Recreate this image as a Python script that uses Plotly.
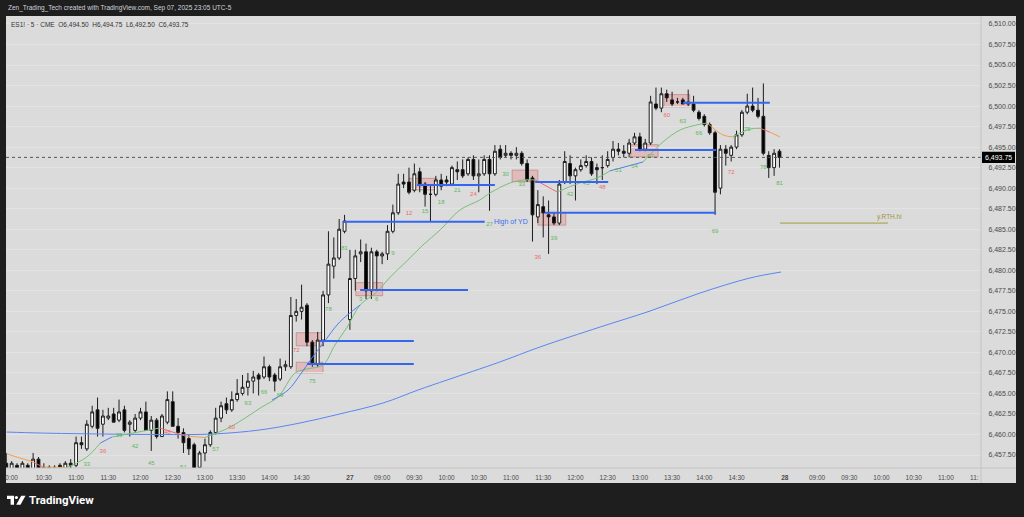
import plotly.graph_objects as go

# ---------------- data ----------------
# bar index: 0 = Aug 26 08:30 (5-min RTH bars, 81 per session 08:30-15:10)
bar_index = list(range(17, 162))

opens = [
    6456.50, 6455.75, 6456.25, 6455.50, 6456.25, 6455.50, 6457.00, 6455.75, 6456.00, 6455.75,
    6456.25, 6455.50, 6456.50, 6456.25, 6459.00, 6458.25, 6461.00, 6463.00, 6461.25, 6462.00,
    6462.50, 6461.75, 6463.00, 6461.25, 6460.50, 6462.00, 6462.75, 6460.50, 6461.75, 6459.75,
    6461.50, 6464.00, 6461.00, 6460.25, 6459.50, 6458.75, 6456.00, 6457.75, 6458.75, 6460.25,
    6462.00, 6463.75, 6463.00, 6464.25, 6465.00, 6465.75, 6466.50, 6467.25, 6467.00, 6468.25,
    6467.25, 6466.75, 6468.25, 6468.25, 6474.50, 6475.00, 6475.75, 6471.25, 6468.50, 6471.50,
    6477.00, 6480.50, 6481.50, 6484.75, 6474.00, 6479.00, 6482.00, 6482.25, 6477.50, 6482.25,
    6481.75, 6482.00, 6484.75, 6487.00, 6490.75, 6490.75, 6489.75, 6492.00, 6490.50, 6489.25,
    6489.25, 6491.00, 6491.00, 6490.50, 6492.25, 6492.25, 6491.75, 6493.50, 6491.50, 6491.75,
    6493.50, 6491.75, 6494.75, 6494.00, 6494.25, 6494.00, 6494.25, 6493.00, 6491.25, 6486.50,
    6487.75, 6486.75, 6486.50, 6485.75, 6490.75, 6493.00, 6491.50, 6492.25, 6492.75, 6493.25,
    6492.50, 6492.50, 6492.75, 6493.75, 6494.75, 6494.50, 6494.25, 6495.50, 6496.25, 6494.75,
    6495.50, 6500.25, 6499.75, 6501.50, 6500.75, 6500.50, 6500.75, 6500.25, 6500.25, 6499.25,
    6498.75, 6497.75, 6496.75, 6490.00, 6494.75, 6494.00, 6495.00, 6496.50, 6499.25, 6500.00,
    6499.50, 6498.75, 6494.00, 6492.50, 6494.50,
]
highs = [
    6457.75, 6456.75, 6456.50, 6456.75, 6456.50, 6457.75, 6457.25, 6456.50, 6456.25, 6456.25,
    6456.50, 6456.75, 6457.00, 6459.75, 6459.75, 6461.75, 6463.50, 6464.50, 6463.00, 6463.25,
    6463.25, 6464.25, 6463.50, 6461.75, 6462.50, 6463.25, 6464.00, 6462.25, 6462.00, 6462.50,
    6465.25, 6465.25, 6462.00, 6460.75, 6460.00, 6459.00, 6458.00, 6459.50, 6460.50, 6463.25,
    6464.00, 6464.50, 6465.25, 6466.75, 6467.25, 6467.50, 6467.75, 6467.50, 6469.50, 6468.50,
    6467.50, 6469.25, 6469.00, 6476.75, 6476.50, 6478.25, 6476.00, 6471.50, 6472.50, 6477.50,
    6484.75, 6484.00, 6486.25, 6486.75, 6482.50, 6482.50, 6483.75, 6483.25, 6482.75, 6482.50,
    6482.25, 6485.50, 6488.00, 6491.75, 6491.75, 6492.50, 6493.00, 6492.50, 6490.75, 6490.25,
    6491.50, 6491.75, 6491.50, 6492.75, 6493.25, 6493.50, 6493.75, 6494.00, 6493.50, 6494.00,
    6494.00, 6495.25, 6495.25, 6495.25, 6494.50, 6495.00, 6494.50, 6493.50, 6491.50, 6489.75,
    6489.00, 6488.50, 6487.00, 6491.00, 6494.50, 6494.00, 6492.50, 6493.50, 6494.00, 6493.75,
    6493.00, 6494.00, 6494.50, 6495.75, 6495.50, 6495.25, 6496.00, 6496.75, 6496.75, 6496.00,
    6501.25, 6502.25, 6502.25, 6502.00, 6501.75, 6501.00, 6501.00, 6502.00, 6501.25, 6499.50,
    6499.00, 6498.00, 6497.00, 6495.25, 6495.25, 6495.25, 6497.00, 6499.50, 6501.50, 6502.25,
    6501.00, 6502.75, 6494.50, 6494.75, 6494.75,
]
lows = [
    6455.25, 6455.25, 6455.00, 6455.25, 6455.25, 6455.25, 6455.00, 6455.00, 6455.25, 6455.25,
    6455.50, 6455.25, 6455.75, 6456.00, 6458.25, 6458.00, 6460.75, 6459.75, 6459.75, 6461.75,
    6461.50, 6461.50, 6460.25, 6459.75, 6460.25, 6461.75, 6460.50, 6458.00, 6459.50, 6459.75,
    6461.25, 6461.00, 6459.50, 6457.75, 6457.50, 6454.50, 6455.25, 6456.75, 6458.50, 6460.00,
    6461.50, 6462.50, 6462.75, 6464.00, 6464.75, 6464.75, 6465.00, 6464.75, 6466.75, 6466.50,
    6465.25, 6466.50, 6467.75, 6468.00, 6473.75, 6474.00, 6470.75, 6468.25, 6468.25, 6470.75,
    6476.00, 6479.00, 6481.25, 6484.50, 6472.75, 6477.50, 6481.00, 6476.50, 6476.50, 6477.50,
    6480.75, 6481.25, 6484.50, 6486.75, 6490.00, 6489.25, 6489.50, 6489.50, 6487.75, 6486.00,
    6489.00, 6489.75, 6490.25, 6490.25, 6491.00, 6491.25, 6491.50, 6491.00, 6489.50, 6491.50,
    6487.25, 6491.50, 6493.50, 6493.75, 6493.50, 6493.50, 6492.75, 6490.75, 6483.50, 6485.75,
    6484.00, 6482.00, 6485.50, 6485.50, 6490.50, 6490.50, 6488.50, 6492.00, 6492.50, 6491.50,
    6490.50, 6491.00, 6492.50, 6493.25, 6494.00, 6493.75, 6493.75, 6495.25, 6494.50, 6494.50,
    6495.25, 6499.50, 6499.25, 6500.50, 6500.00, 6500.25, 6500.25, 6500.00, 6499.25, 6498.25,
    6497.50, 6496.50, 6486.75, 6489.25, 6492.75, 6493.25, 6494.75, 6496.25, 6499.00, 6499.25,
    6498.50, 6494.00, 6491.25, 6491.50, 6492.50,
]
closes = [
    6456.00, 6456.50, 6455.75, 6456.50, 6455.75, 6457.00, 6455.50, 6456.00, 6455.75, 6456.00,
    6456.00, 6456.50, 6456.25, 6459.00, 6458.75, 6461.25, 6462.75, 6460.75, 6462.25, 6462.25,
    6461.50, 6462.75, 6460.50, 6461.50, 6462.00, 6462.75, 6460.50, 6461.75, 6459.75, 6462.25,
    6464.25, 6461.00, 6460.25, 6459.00, 6458.25, 6455.50, 6457.75, 6458.75, 6460.25, 6462.00,
    6463.50, 6463.00, 6464.25, 6465.00, 6465.75, 6466.50, 6467.00, 6466.75, 6468.25, 6467.00,
    6466.50, 6468.25, 6468.50, 6474.50, 6475.00, 6475.50, 6471.25, 6468.75, 6471.50, 6477.00,
    6480.75, 6481.50, 6485.00, 6486.00, 6479.00, 6481.75, 6482.25, 6477.50, 6482.25, 6481.75,
    6482.00, 6484.75, 6487.00, 6490.50, 6490.50, 6489.50, 6491.75, 6490.50, 6489.25, 6489.25,
    6491.00, 6490.25, 6490.75, 6492.50, 6492.00, 6491.50, 6493.50, 6491.50, 6491.75, 6493.50,
    6491.75, 6494.50, 6493.75, 6494.25, 6494.00, 6494.25, 6493.00, 6491.00, 6486.75, 6488.00,
    6487.00, 6486.50, 6485.75, 6490.50, 6493.25, 6491.50, 6492.25, 6492.75, 6493.25, 6491.75,
    6492.25, 6492.50, 6493.50, 6494.75, 6494.50, 6494.25, 6495.50, 6496.25, 6494.75, 6495.50,
    6500.50, 6499.75, 6501.50, 6501.00, 6500.25, 6500.50, 6500.25, 6500.50, 6499.50, 6498.50,
    6497.75, 6496.75, 6489.50, 6494.75, 6494.25, 6495.00, 6496.50, 6499.25, 6500.00, 6499.50,
    6498.75, 6494.25, 6492.50, 6494.25, 6493.75,
]

# slow moving average
slow_x = [17.1, 23.3, 34.5, 45.6, 55.5, 64.2, 71.7, 79.1, 87.2, 93.7, 99.1, 108.9, 116.4,
          127.6, 136.9, 146.2, 155.5, 161.3]
slow_y = [6460.30, 6460.18, 6460.06, 6460.00, 6460.06, 6460.55, 6461.40, 6462.50, 6463.84,
          6465.42, 6466.64, 6468.83, 6470.66, 6473.09, 6475.04, 6477.23, 6479.06, 6479.79]

# fast, slope-coloured average (colour = segment starting at that point)
fast_x = [17.1, 22.0, 23.8, 28.3, 32.0, 34.5, 36.7, 40.6, 45.6, 50.3, 54.0, 58.7, 64.6, 67.6,
          70.8, 73.0, 76.0, 78.2, 80.5, 82.9, 86.0, 88.5, 91.6, 94.6, 97.8, 101.5, 105.2, 107.1,
          110.8, 113.2, 115.5, 119.6, 123.8, 127.0, 129.4, 135.6, 139.3, 142.5, 145.6, 147.5,
          150.5, 152.3, 155.5, 157.4, 159.3, 161.1]
fast_y = [6457.63, 6456.65, 6456.04, 6455.98, 6457.26, 6458.96, 6459.70, 6460.18, 6460.79,
          6459.82, 6459.63, 6460.91, 6463.35, 6464.57, 6467.49, 6467.98, 6468.47, 6470.90,
          6473.09, 6475.77, 6477.36, 6479.18, 6481.13, 6483.08, 6484.91, 6487.35, 6488.56,
          6489.42, 6490.63, 6491.00, 6491.00, 6489.54, 6490.63, 6491.24, 6492.10, 6493.19,
          6495.63, 6497.09, 6497.70, 6497.94, 6496.48, 6496.24, 6497.20, 6497.30, 6496.80,
          6496.24]
fast_col = ['o', 'r', 'o', 'g', 'g', 'b', 'g', 'g', 'r', 'o', 'g', 'g', 'g', 'g',
            'g', 'g', 'g', 'g', 'g', 'g', 'g', 'g', 'g', 'g', 'g', 'g', 'g', 'g',
            'g', 'g', 'r', 'g', 'g', 'g', 'b', 'g', 'g', 'g', 'g', 'o',
            'o', 'g', 'g', 'r', 'o', 'o']

# short-lived faster blue average on the afternoon rally
blue2_x = [66.5, 69.5, 71.7, 73.9, 76.0, 79.1, 82.9]
blue2_y = [6464.20, 6465.42, 6467.25, 6469.30, 6471.10, 6473.70, 6475.77]

# bar-count labels (number, price position)
day26_label_num = [33, 36, 39, 42, 45, 48, 51, 57, 60, 63, 66, 69, 72, 75, 78, 81]
day26_label_price = [6456.4, 6457.9, 6459.9, 6458.6, 6456.5, 6460.2, 6456.0, 6458.2, 6460.9,
                     6463.8, 6465.1, 6464.7, 6470.2, 6466.4, 6475.2, 6482.7]
day27_label_num = [3, 6, 9, 12, 15, 18, 21, 24, 27, 30, 33, 36, 39, 42, 45, 48, 51, 54, 57,
                   60, 63, 66, 69, 72, 75, 78, 81]
day27_label_price = [6476.5, 6476.5, 6482.0, 6486.9, 6487.1, 6488.2, 6489.7, 6489.2, 6485.6,
                     6491.7, 6490.4, 6481.5, 6483.9, 6489.2, 6490.6, 6490.1, 6492.2, 6492.6,
                     6493.9, 6498.9, 6498.1, 6496.7, 6484.7, 6491.9, 6497.2, 6492.5, 6490.6]

# supply/demand zones (bar from, bar to, price low, price high)
zone_start = [71.0, 71.0, 82.1, 92.0, 111.2, 116.0, 133.3, 139.5]
zone_end = [76.0, 76.0, 87.1, 97.2, 116.0, 121.2, 138.4, 144.3]
zone_low = [6470.8, 6467.5, 6476.9, 6489.8, 6490.8, 6485.5, 6493.8, 6499.9]
zone_high = [6472.4, 6468.8, 6478.5, 6491.2, 6492.2, 6487.0, 6495.3, 6501.4]

# horizontal levels (bar from, bar to, price)
level_start = [79.7, 82.9, 75.4, 73.0, 93.5, 115.5, 117.3, 134.1, 143.0]
level_end = [106.1, 103.0, 92.9, 92.9, 108.0, 129.1, 149.2, 149.2, 159.2]
level_price = [6485.9, 6477.6, 6471.4, 6468.6, 6490.4, 6490.75, 6487.0, 6494.65, 6500.4]

rth_hi_price = 6485.75
rth_hi_start, rth_hi_end = 161.1, 181.2
last_price = 6493.75

time_tick_pos = [18, 24, 30, 36, 42, 48, 54, 60, 66, 72,
                 81, 87, 93, 99, 105, 111, 117, 123, 129, 135, 141, 147, 153,
                 162, 168, 174, 180, 186, 192, 197.3]
time_tick_text = ["0:00", "10:30", "11:00", "11:30", "12:00", "12:30", "13:00", "13:30", "14:00", "14:30",
                  "<b>27</b>", "09:00", "09:30", "10:00", "10:30", "11:00", "11:30", "12:00", "12:30",
                  "13:00", "13:30", "14:00", "14:30",
                  "<b>28</b>", "09:00", "09:30", "10:00", "10:30", "11:00", "11:"]
price_ticks = [6457.5, 6460.0, 6462.5, 6465.0, 6467.5, 6470.0, 6472.5, 6475.0, 6477.5, 6480.0,
               6482.5, 6485.0, 6487.5, 6490.0, 6492.5, 6495.0, 6497.5, 6500.0, 6502.5, 6505.0,
               6507.5, 6510.0]

# ---------------- layout constants ----------------
W, H = 1024, 517
ML, MR, MT, MB = 6, 43, 16, 49
PW, PH = W - ML - MR, H - MT - MB
FONT = "Liberation Sans, Arial, sans-serif"
DARK = "#1e1e1e"
PANEL = "#dbdbdb"
COL = {'g': '#74c178', 'r': '#ee6b6b', 'o': '#f2a04b', 'b': '#4f7df0'}


def pxx(px):
    return (px - ML) / PW


def pxy(py):
    return (H - MB - py) / PH


fig = go.Figure()

fig.add_trace(go.Scatter(x=slow_x, y=slow_y, mode="lines", line=dict(color="#5a86f2", width=1, shape="spline"),
                         hoverinfo="skip", showlegend=False))

# fast line split by colour
start = 0
for i in range(1, len(fast_x)):
    if i == len(fast_x) - 1 or fast_col[i] != fast_col[start]:
        fig.add_trace(go.Scatter(x=fast_x[start:i + 1], y=fast_y[start:i + 1], mode="lines",
                                 line=dict(color=COL[fast_col[start]], width=1, shape="spline"),
                                 hoverinfo="skip", showlegend=False))
        start = i

fig.add_trace(go.Scatter(x=blue2_x, y=blue2_y, mode="lines", line=dict(color=COL['b'], width=1, shape="spline"),
                         hoverinfo="skip", showlegend=False))

fig.add_trace(go.Candlestick(
    x=bar_index, open=opens, high=highs, low=lows, close=closes,
    increasing=dict(line=dict(color="#1c1c1c", width=1), fillcolor="#ffffff"),
    decreasing=dict(line=dict(color="#1c1c1c", width=1), fillcolor="#000000"),
    whiskerwidth=0, hoverinfo="skip", showlegend=False))

lab_x = [n - 1 for n in day26_label_num] + [80 + n for n in day27_label_num]
lab_y = day26_label_price + day27_label_price
lab_t = [str(n) for n in day26_label_num + day27_label_num]
lab_c = [COL['r'] if n % 12 == 0 else '#5cb860' for n in day26_label_num + day27_label_num]
fig.add_trace(go.Scatter(x=lab_x, y=lab_y, text=lab_t, mode="text",
                         textfont=dict(color=lab_c, size=6, family=FONT),
                         hoverinfo="skip", showlegend=False))

shapes = []
# light chart panel
shapes.append(dict(type="rect", xref="paper", yref="paper", x0=pxx(6), x1=pxx(1016), y0=pxy(483), y1=pxy(16),
                   fillcolor=PANEL, line=dict(width=0), layer="below"))
for x0, x1, lo, hi in zip(zone_start, zone_end, zone_low, zone_high):
    shapes.append(dict(type="rect", xref="x", yref="y", x0=x0, x1=x1, y0=lo, y1=hi,
                       fillcolor="rgba(232,120,120,0.33)", line=dict(color="rgba(185,110,110,0.55)", width=1),
                       layer="below"))
for x0, x1, p in zip(level_start, level_end, level_price):
    shapes.append(dict(type="line", xref="x", yref="y", x0=x0, x1=x1, y0=p, y1=p,
                       line=dict(color="#3566f0", width=2), layer="above"))
shapes.append(dict(type="line", xref="x", yref="y", x0=rth_hi_start, x1=rth_hi_end, y0=rth_hi_price,
                   y1=rth_hi_price, line=dict(color="#a39d3e", width=1)))
shapes.append(dict(type="line", xref="paper", yref="y", x0=0, x1=1, y0=last_price, y1=last_price,
                   line=dict(color="#555555", width=1, dash="dot")))
# axis separators
shapes.append(dict(type="line", xref="paper", yref="paper", x0=0, x1=pxx(1016), y0=0, y1=0,
                   line=dict(color="#c3c3c3", width=1)))
shapes.append(dict(type="line", xref="paper", yref="paper", x0=1, x1=1, y0=pxy(483), y1=1,
                   line=dict(color="#c3c3c3", width=1)))
# last price box
shapes.append(dict(type="rect", xref="paper", yref="y", x0=pxx(982), x1=pxx(1015),
                   y0=last_price - 0.68, y1=last_price + 0.68, fillcolor="#000000", line=dict(width=0)))
# TradingView logo glyph
shapes.append(dict(type="path", xref="paper", yref="paper", fillcolor="#ffffff", line=dict(width=0),
                   path=f"M {pxx(7)} {pxy(495.7)} L {pxx(14)} {pxy(495.7)} L {pxx(14)} {pxy(504.8)} "
                        f"L {pxx(10.6)} {pxy(504.8)} L {pxx(10.6)} {pxy(499)} L {pxx(7)} {pxy(499)} Z"))
shapes.append(dict(type="circle", xref="paper", yref="paper", fillcolor="#ffffff", line=dict(width=0),
                   x0=pxx(14.8), x1=pxx(18.0), y0=pxy(499.1), y1=pxy(495.9)))
shapes.append(dict(type="path", xref="paper", yref="paper", fillcolor="#ffffff", line=dict(width=0),
                   path=f"M {pxx(21.2)} {pxy(495.7)} L {pxx(25.5)} {pxy(495.7)} L {pxx(20.5)} {pxy(504.8)} "
                        f"L {pxx(16.2)} {pxy(504.8)} Z"))

annotations = [
    dict(xref="paper", yref="paper", x=pxx(6), y=pxy(8), xanchor="left", yanchor="middle", showarrow=False,
         text="Zen_Trading_Tech created with TradingView.com, Sep 07, 2025 23:05 UTC-5",
         font=dict(size=6.5, color="#d1d4dc", family=FONT)),
    dict(xref="paper", yref="paper", x=pxx(9), y=pxy(24), xanchor="left", yanchor="middle", showarrow=False,
         text="ES1! · 5 · CME  O6,494.50  H6,494.75  L6,492.50  C6,493.75",
         font=dict(size=6.5, color="#333333", family=FONT)),
    dict(xref="x", yref="y", x=107.5, y=level_price[0], xanchor="left", yanchor="middle", showarrow=False,
         text="High of YD", font=dict(size=7, color="#3b6cf2", family=FONT)),
    dict(xref="x", yref="y", x=178.8, y=6486.5, xanchor="left", yanchor="middle", showarrow=False,
         text="y.RTH.hi", font=dict(size=6.5, color="#9c9636", family=FONT)),
    dict(xref="paper", yref="y", x=pxx(998.5), y=last_price, xanchor="center", yanchor="middle", showarrow=False,
         text="6,493.75", font=dict(size=7, color="#ffffff", family=FONT)),
    dict(xref="paper", yref="paper", x=pxx(27), y=pxy(500.5), xanchor="left", yanchor="middle", showarrow=False,
         text="<b>TradingView</b>", font=dict(size=11.5, color="#ffffff", family="Roboto, " + FONT)),
]

fig.update_layout(
    width=W, height=H, autosize=False,
    margin=dict(l=ML, r=MR, t=MT, b=MB, pad=0),
    paper_bgcolor=DARK, plot_bgcolor=PANEL,
    showlegend=False, hovermode=False, boxgap=0.25,
    shapes=shapes, annotations=annotations,
    font=dict(family=FONT),
    xaxis=dict(range=[16.95, 198.53], showgrid=False, zeroline=False, showline=False,
               tickvals=time_tick_pos, ticktext=time_tick_text, ticks="outside", ticklen=3,
               tickcolor="rgba(0,0,0,0)", tickfont=dict(size=6.5, color="#4a4a4a", family=FONT),
               rangeslider=dict(visible=False), fixedrange=True),
    yaxis=dict(range=[6455.92, 6510.97], side="right", showgrid=True, gridcolor="#e3e3e3", gridwidth=1,
               zeroline=False, showline=False, tickvals=price_ticks,
               ticktext=[f"{v:,.2f}" for v in price_ticks], ticks="outside", ticklen=5,
               tickcolor="rgba(0,0,0,0)", tickfont=dict(size=7, color="#4a4a4a", family=FONT),
               fixedrange=True),
)

fig.write_html("out.html", config={"displayModeBar": False, "staticPlot": True},
               post_script="document.body.style.margin='0';document.body.style.overflow='hidden';")
